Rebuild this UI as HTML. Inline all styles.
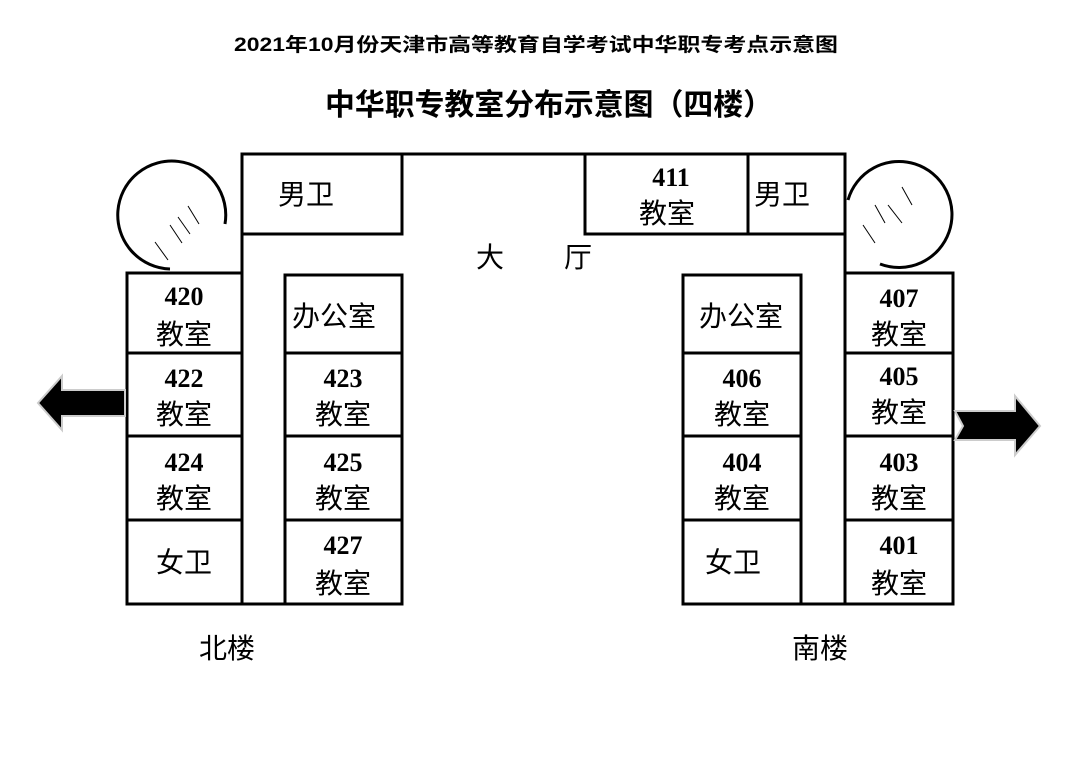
<!DOCTYPE html>
<html><head><meta charset="utf-8"><style>
html,body{margin:0;padding:0;background:#fff;}
svg{display:block}
.s{font-family:"Liberation Sans","Noto Sans CJK SC",sans-serif;}
.n{font-family:"Liberation Serif",serif;font-weight:bold;font-size:26px;}
.c{font-family:"Noto Sans CJK SC","WenQuanYi Zen Hei",sans-serif;font-size:28px;}
</style></head><body>
<svg width="1080" height="764" viewBox="0 0 1080 764" xmlns="http://www.w3.org/2000/svg">
<rect width="1080" height="764" fill="#fff"/>
<text x="536" y="51" text-anchor="middle" class="s" font-size="19" font-weight="bold" textLength="604" lengthAdjust="spacingAndGlyphs">2021年10月份天津市高等教育自学考试中华职专考点示意图</text>
<text x="549" y="115" text-anchor="middle" class="s" font-size="30" font-weight="bold" textLength="448" lengthAdjust="spacingAndGlyphs">中华职专教室分布示意图（四楼）</text>
<g fill="none" stroke="#000" stroke-width="3">
<polyline points="242,604 242,154 845,154 845,604"/>
<rect x="242" y="154" width="160" height="80"/>
<rect x="127" y="273" width="115" height="331"/>
<line x1="127" y1="353" x2="242" y2="353"/><line x1="127" y1="436" x2="242" y2="436"/><line x1="127" y1="520" x2="242" y2="520"/>
<rect x="285" y="275" width="117" height="329"/>
<line x1="285" y1="353" x2="402" y2="353"/><line x1="285" y1="436" x2="402" y2="436"/><line x1="285" y1="520" x2="402" y2="520"/>
<line x1="242" y1="604" x2="285" y2="604"/>
<rect x="585" y="154" width="163" height="80"/>
<rect x="748" y="154" width="97" height="80"/>
<rect x="845" y="273" width="108" height="331"/>
<line x1="845" y1="353" x2="953" y2="353"/><line x1="845" y1="436" x2="953" y2="436"/><line x1="845" y1="520" x2="953" y2="520"/>
<rect x="683" y="275" width="118" height="329"/>
<line x1="683" y1="353" x2="801" y2="353"/><line x1="683" y1="436" x2="801" y2="436"/><line x1="683" y1="520" x2="801" y2="520"/>
<line x1="801" y1="604" x2="845" y2="604"/>
<path d="M170,269 A54,54 0 1 1 225,224"/>
<path d="M848,200 A53,53 0 1 1 880,264"/>
</g>
<g stroke="#000" stroke-width="1">
<line x1="155" y1="242" x2="168" y2="260"/><line x1="170" y1="225" x2="182" y2="243"/>
<line x1="178" y1="217" x2="190" y2="234"/><line x1="188" y1="206" x2="199" y2="224"/>
<line x1="863" y1="225" x2="875" y2="243"/><line x1="875" y1="205" x2="885" y2="223"/>
<line x1="888" y1="205" x2="902" y2="223"/><line x1="902" y1="187" x2="912" y2="205"/>
</g>
<polygon points="125,390 62,390 62,376 38,403 62,430 62,416 125,416" fill="#000" stroke="#ccc" stroke-width="2"/>
<polygon points="955,411 1015,411 1015,396 1040,426 1015,455 1015,440 955,440 963,426" fill="#000" stroke="#ccc" stroke-width="2"/>
<g text-anchor="middle">
<text x="306" y="204" class="c">男卫</text>
<text x="782" y="204" class="c">男卫</text>
<text x="671" y="186" class="n">411</text><text x="667" y="223" class="c">教室</text>
<text x="490" y="267" class="c">大</text><text x="578" y="267" class="c">厅</text>
<text x="184" y="305" class="n">420</text><text x="184" y="344" class="c">教室</text>
<text x="184" y="387" class="n">422</text><text x="184" y="424" class="c">教室</text>
<text x="184" y="471" class="n">424</text><text x="184" y="508" class="c">教室</text>
<text x="184" y="572" class="c">女卫</text>
<text x="334" y="326" class="c">办公室</text>
<text x="343" y="387" class="n">423</text><text x="343" y="424" class="c">教室</text>
<text x="343" y="471" class="n">425</text><text x="343" y="508" class="c">教室</text>
<text x="343" y="554" class="n">427</text><text x="343" y="593" class="c">教室</text>
<text x="741" y="326" class="c">办公室</text>
<text x="742" y="387" class="n">406</text><text x="742" y="424" class="c">教室</text>
<text x="742" y="471" class="n">404</text><text x="742" y="508" class="c">教室</text>
<text x="733" y="572" class="c">女卫</text>
<text x="899" y="307" class="n">407</text><text x="899" y="344" class="c">教室</text>
<text x="899" y="385" class="n">405</text><text x="899" y="422" class="c">教室</text>
<text x="899" y="471" class="n">403</text><text x="899" y="508" class="c">教室</text>
<text x="899" y="554" class="n">401</text><text x="899" y="593" class="c">教室</text>
<text x="227" y="658" class="c" font-size="31">北楼</text>
<text x="820" y="658" class="c" font-size="31">南楼</text>
</g>
</svg>
</body></html>
